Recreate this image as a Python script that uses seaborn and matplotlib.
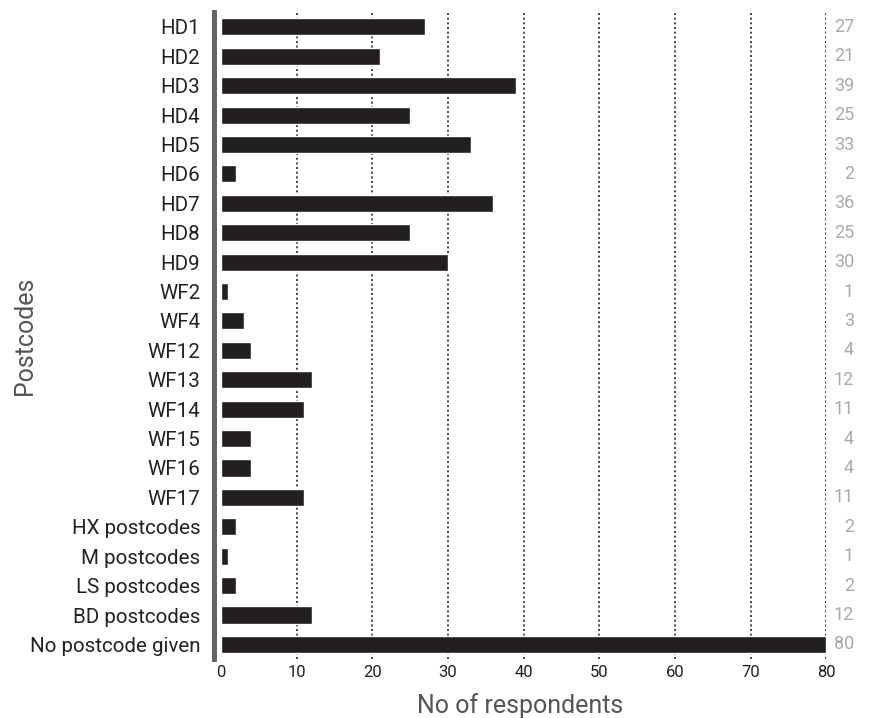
import numpy as np
import pandas as pd
import matplotlib
matplotlib.use("Agg")
import matplotlib.pyplot as plt
import seaborn as sns

# values
postcodes = ["HD1", "HD2", "HD3", "HD4", "HD5", "HD6", "HD7", "HD8", "HD9",
             "WF2", "WF4", "WF12", "WF13", "WF14", "WF15", "WF16", "WF17",
             "HX postcodes", "M postcodes", "LS postcodes", "BD postcodes",
             "No postcode given"]
respondents = [27, 21, 39, 25, 33, 2, 36, 25, 30, 1, 3, 4, 12, 11, 4, 4, 11,
               2, 1, 2, 12, 80]
x_ticks = [0, 10, 20, 30, 40, 50, 60, 70, 80]

df = pd.DataFrame({"postcode": postcodes, "n": respondents})

sns.set_style("white")
plt.rcParams["font.family"] = ["Roboto", "DejaVu Sans"]

fig = plt.figure(figsize=(8.81, 7.18), dpi=100)
ax = fig.add_axes([0.243, 0.082, 0.695, 0.901])

sns.barplot(data=df, x="n", y="postcode", orient="h", color="#231f20",
            saturation=1, width=0.58, ax=ax)

ax.set_xlim(-0.9, 80)
ax.set_xticks(x_ticks)
ax.set_xticklabels([str(t) for t in x_ticks], fontsize=12, color="#222222")
ax.tick_params(axis="y", labelsize=14.8, labelcolor="#222222", length=0, pad=10)
ax.tick_params(axis="x", length=0, pad=4)

# dotted vertical gridlines
for t in x_ticks[1:]:
    ax.axvline(t, color="#444444", linestyle=(0, (1, 1.4)), linewidth=1.4, zorder=0)

for s in ["top", "right", "bottom"]:
    ax.spines[s].set_visible(False)
ax.spines["left"].set_color("#666666")
ax.spines["left"].set_linewidth(3.6)

# value labels on the right
for i, v in enumerate(respondents):
    ax.text(1.045, i, str(v), transform=ax.get_yaxis_transform(),
            ha="right", va="center", fontsize=13, color="#aaaaaa")

ax.set_xlabel("No of respondents", fontsize=18, color="#555555")
ax.set_ylabel("Postcodes", fontsize=18, color="#555555")
ax.xaxis.set_label_coords(0.5, -0.052)
ax.yaxis.set_label_coords(-0.289, 0.5)

fig.savefig("out.png", dpi=100)
